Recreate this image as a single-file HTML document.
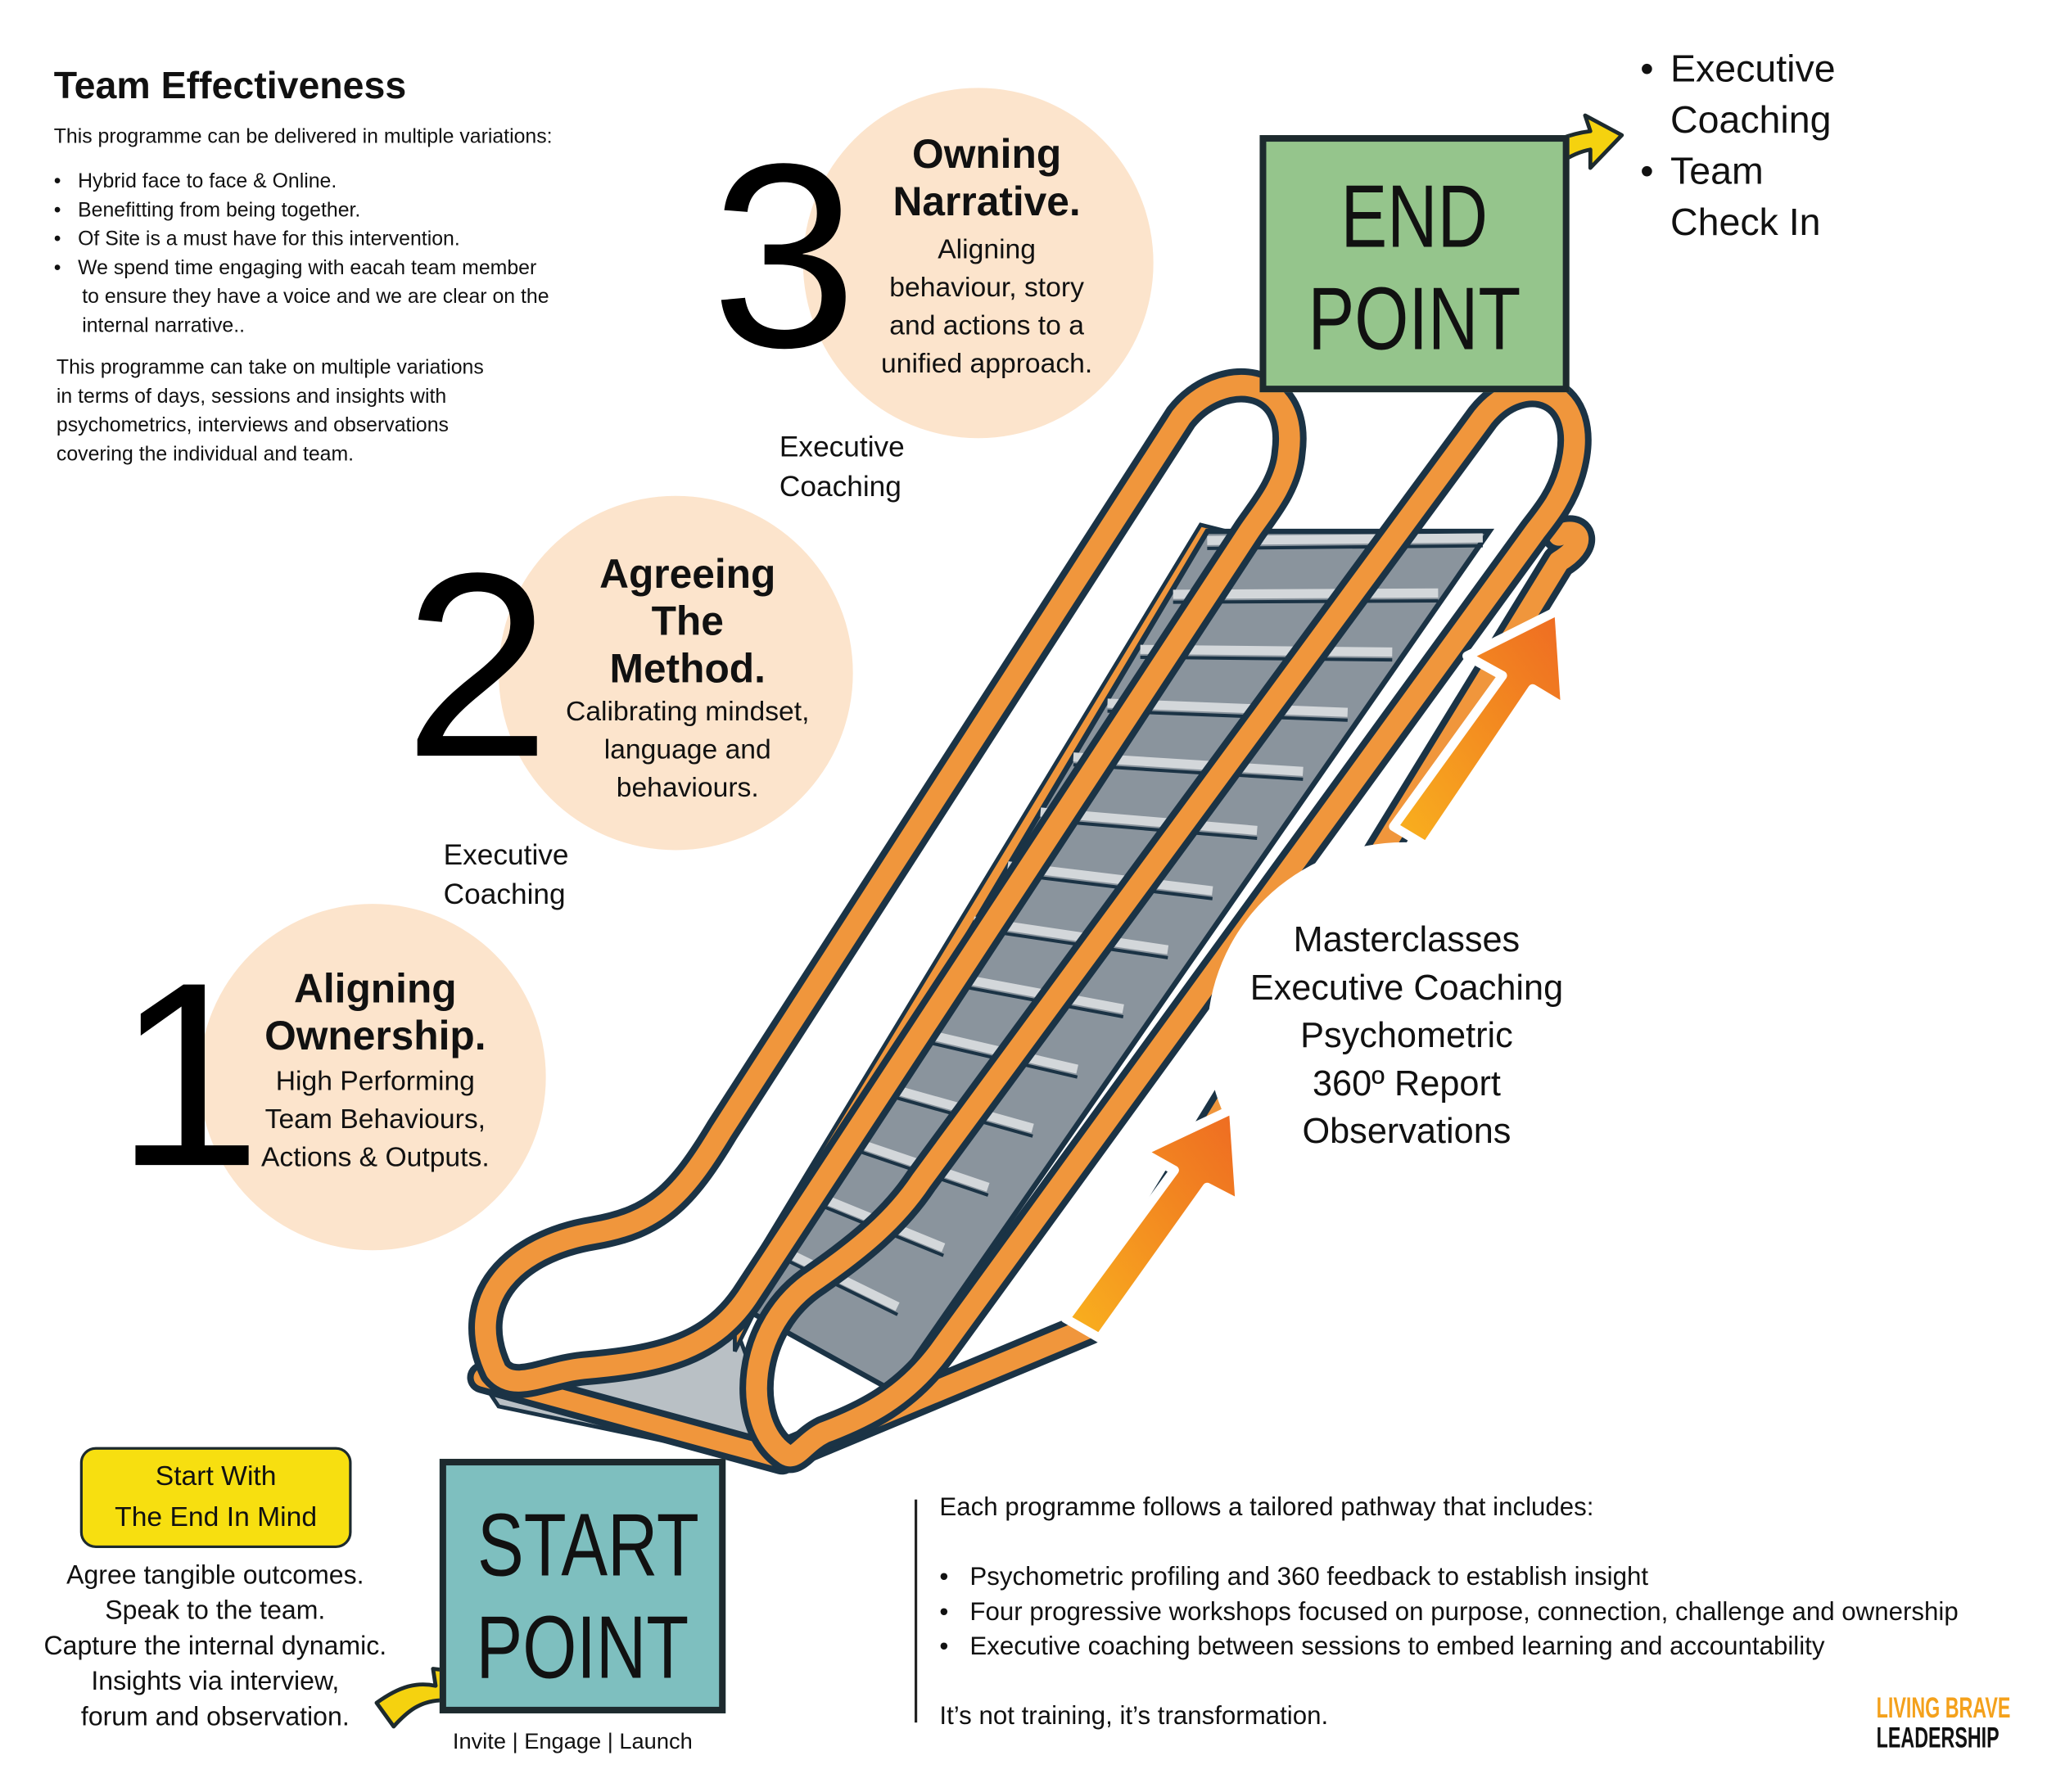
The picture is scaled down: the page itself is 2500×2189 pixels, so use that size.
<!DOCTYPE html>
<html><head><meta charset="utf-8">
<style>
html,body{margin:0;padding:0;background:#fff;}
body{width:2500px;height:2189px;overflow:hidden;}
#c{position:absolute;left:0;top:0;width:1560px;height:1366px;transform:scale(1.60256);transform-origin:0 0;font-family:"Liberation Sans",sans-serif;color:#111;}
.a{position:absolute;white-space:nowrap;}
.circ{position:absolute;border-radius:50%;background:#fce4cc;}
.num{position:absolute;font-size:200px;line-height:1;color:#000;font-family:"Liberation Sans",sans-serif;}
.ct{position:absolute;text-align:center;white-space:nowrap;}
.ct b{font-size:31px;line-height:36px;display:block;}
.ct span{font-size:21px;line-height:29px;display:block;}
.box{position:absolute;border:5px solid #1d2a2e;box-sizing:border-box;text-align:center;font-size:68px;line-height:78px;color:#111;}
.box span{display:inline-block;transform:scaleX(0.78);}
</style></head><body><div id="c">

<div class="a" style="left:41px;top:50px;font-size:29px;font-weight:bold;">Team Effectiveness</div>
<div class="a" style="left:41px;top:96px;font-size:15.5px;">This programme can be delivered in multiple variations:</div>
<div class="a" style="left:41px;top:128px;font-size:15.5px;line-height:22px;">
•&nbsp;&nbsp; Hybrid face to face &amp; Online.<br>
•&nbsp;&nbsp; Benefitting from being together.<br>
•&nbsp;&nbsp; Of Site is a must have for this intervention.<br>
•&nbsp;&nbsp; We spend time engaging with eacah team member<br>
&nbsp;&nbsp;&nbsp;&nbsp; to ensure they have a voice and we are clear on the<br>
&nbsp;&nbsp;&nbsp;&nbsp; internal narrative..</div>
<div class="a" style="left:43px;top:270px;font-size:15.5px;line-height:22px;">This programme can take on multiple variations<br>in terms of days, sessions and insights with<br>psychometrics, interviews and observations<br>covering the individual and team.</div>

<div class="circ" style="left:612px;top:67px;width:267px;height:267px;"></div>
<div class="circ" style="left:380px;top:378px;width:270px;height:270px;"></div>
<div class="circ" style="left:152px;top:689px;width:264px;height:264px;"></div>
<div class="num" style="left:542px;top:96px;">3</div>
<div class="num" style="left:308px;top:408px;">2</div>
<div class="num" style="left:88px;top:720px;">1</div>
<div class="ct" style="left:652px;top:100px;width:200px;"><b>Owning<br>Narrative.</b><span style="margin-top:4px">Aligning<br>behaviour, story<br>and actions to a<br>unified approach.</span></div>
<div class="ct" style="left:414px;top:420px;width:220px;"><b>Agreeing<br>The<br>Method.</b><span>Calibrating mindset,<br>language and<br>behaviours.</span></div>
<div class="ct" style="left:186px;top:736px;width:200px;"><b>Aligning<br>Ownership.</b><span style="margin-top:2px">High Performing<br>Team Behaviours,<br>Actions &amp; Outputs.</span></div>

<div class="a" style="left:594px;top:326px;font-size:22px;line-height:30px;">Executive<br>Coaching</div>
<div class="a" style="left:338px;top:637px;font-size:22px;line-height:30px;">Executive<br>Coaching</div>

<svg style="position:absolute;left:0;top:0" width="1560" height="1366" viewBox="0 0 1560 1366">
<defs>
<linearGradient id="g" x1="0" y1="1" x2="1" y2="0"><stop offset="0" stop-color="#f9b21e"/><stop offset="1" stop-color="#ee6a22"/></linearGradient>
</defs>
<polygon points="372,1060 560,1010 600,1118 380,1072" fill="#b9c0c5" stroke="#1b3345" stroke-width="3"/>
<polygon points="560,985 915,400 935,405 575,1000 560,1030" fill="#f0963c" stroke="#1b3345" stroke-width="3"/>
<polygon points="920,405 1135,405 680,1060 568,998" fill="#8a949d" stroke="#1b3345" stroke-width="4"/>
<g stroke-width="7" stroke="#d3d7da">
<line x1="920" y1="412" x2="1130" y2="410"/><line x1="894" y1="453" x2="1096" y2="452"/><line x1="869" y1="495" x2="1061" y2="497"/><line x1="844" y1="536" x2="1027" y2="543"/><line x1="818" y1="577" x2="993" y2="588"/><line x1="793" y1="619" x2="958" y2="633"/><line x1="768" y1="660" x2="924" y2="679"/><line x1="742" y1="702" x2="890" y2="724"/><line x1="717" y1="743" x2="856" y2="769"/><line x1="692" y1="785" x2="821" y2="815"/><line x1="666" y1="826" x2="787" y2="860"/><line x1="641" y1="867" x2="753" y2="905"/><line x1="616" y1="909" x2="719" y2="951"/><line x1="590" y1="950" x2="684" y2="996"/>
</g>
<g stroke-width="2.5" stroke="#1b3345">
<line x1="920" y1="418" x2="1130" y2="416"/><line x1="894" y1="459" x2="1096" y2="458"/><line x1="869" y1="501" x2="1061" y2="503"/><line x1="844" y1="542" x2="1027" y2="549"/><line x1="818" y1="583" x2="993" y2="594"/><line x1="793" y1="625" x2="958" y2="639"/><line x1="768" y1="666" x2="924" y2="685"/><line x1="742" y1="708" x2="890" y2="730"/><line x1="717" y1="749" x2="856" y2="775"/><line x1="692" y1="791" x2="821" y2="821"/><line x1="666" y1="832" x2="787" y2="866"/><line x1="641" y1="873" x2="753" y2="911"/><line x1="616" y1="915" x2="719" y2="957"/><line x1="590" y1="956" x2="684" y2="1002"/>
</g>
<g fill="none" stroke-linecap="round" stroke-linejoin="round">
<path d="M595,1110 L830,1012 L1188,428 C1210,415 1205,400 1188,408" stroke="#1b3345" stroke-width="26"/>
<path d="M595,1110 L830,1012 L1188,428 C1210,415 1205,400 1188,408" stroke="#f0963c" stroke-width="16"/>
<path d="M368,1050 L596,1112" stroke="#1b3345" stroke-width="24"/>
<path d="M368,1050 L596,1112" stroke="#f0963c" stroke-width="14"/>
<path d="M378,1045 C352,990 392,950 452,940 C500,932 520,912 550,862 L900,318 C930,280 990,285 982,345 C980,370 962,390 952,405 L572,985 C545,1028 505,1038 445,1043 C415,1046 392,1062 378,1045 Z" stroke="#1b3345" stroke-width="26"/>
<path d="M378,1045 C352,990 392,950 452,940 C500,932 520,912 550,862 L900,318 C930,280 990,285 982,345 C980,370 962,390 952,405 L572,985 C545,1028 505,1038 445,1043 C415,1046 392,1062 378,1045 Z" stroke="#f0963c" stroke-width="16"/>
<path d="M598,1108 C565,1085 568,1010 622,975 C655,952 682,930 702,900 L1130,318 C1160,280 1215,295 1196,360 C1190,380 1180,392 1170,405 L716,1030 C690,1065 660,1080 628,1092 C612,1100 606,1115 598,1108 Z" stroke="#1b3345" stroke-width="26"/>
<path d="M598,1108 C565,1085 568,1010 622,975 C655,952 682,930 702,900 L1130,318 C1160,280 1215,295 1196,360 C1190,380 1180,392 1170,405 L716,1030 C690,1065 660,1080 628,1092 C612,1100 606,1115 598,1108 Z" stroke="#f0963c" stroke-width="16"/>
</g>
<ellipse cx="1070" cy="790" rx="150" ry="148" fill="#fff"/>
<g stroke="#fff" stroke-width="7" stroke-linejoin="round" fill="url(#g)">
<polygon points="812,1005 895,892 870,878 940,845 945,918 920,905 838,1020"/>
<polygon points="1062,630 1145,515 1118,500 1188,465 1193,540 1168,525 1087,645"/>
</g>
<g stroke="#1d2a2e" stroke-width="3" stroke-linejoin="round" fill="#f5d20f">
<path d="M1155,125 C1175,110 1195,102 1212,100 L1208,88 L1236,103 L1212,128 L1212,114 C1196,117 1182,128 1168,142 Z"/>
<path d="M287,1298 C305,1285 318,1282 332,1285 L330,1272 L356,1275 L348,1302 L338,1296 C320,1296 310,1305 300,1316 Z"/>
</g>
</svg>

<div class="a" style="left:948px;top:698px;width:248px;text-align:center;font-size:27px;line-height:36.5px;">Masterclasses<br>Executive Coaching<br>Psychometric<br>360º Report<br>Observations</div>

<div class="box" style="left:960px;top:103px;width:236px;height:196px;background:#95c58c;padding-top:18px;"><span>END</span><br><span>POINT</span></div>
<div class="box" style="left:335px;top:1112px;width:218px;height:194px;background:#7ebfbf;padding-top:22px;"><span>START</span><br><span>POINT</span></div>

<div class="a" style="left:1250px;top:34px;font-size:29px;line-height:39px;">•<br><br>•</div>
<div class="a" style="left:1273px;top:34px;font-size:29px;line-height:39px;">Executive<br>Coaching<br>Team<br>Check In</div>

<div class="a" style="left:61px;top:1103px;width:207px;height:77px;box-sizing:border-box;border:2.5px solid #1d2a2e;border-radius:12px;background:#f7df10;text-align:center;font-size:21px;line-height:31px;padding-top:5px;">Start With<br>The End In Mind</div>
<div class="a" style="left:14px;top:1188px;width:300px;text-align:center;font-size:20px;line-height:27px;">Agree tangible outcomes.<br>Speak to the team.<br>Capture the internal dynamic.<br>Insights via interview,<br>forum and observation.</div>
<div class="a" style="left:345px;top:1318px;font-size:17px;">Invite | Engage | Launch</div>

<div class="a" style="left:697px;top:1143px;width:2px;height:170px;background:#222;"></div>
<div class="a" style="left:716px;top:1136px;font-size:19.5px;line-height:26.5px;">Each programme follows a tailored pathway that includes:<br><br>
•&nbsp;&nbsp; Psychometric profiling and 360 feedback to establish insight<br>
•&nbsp;&nbsp; Four progressive workshops focused on purpose, connection, challenge and ownership<br>
•&nbsp;&nbsp; Executive coaching between sessions to embed learning and accountability<br><br>
It’s not training, it’s transformation.</div>

<div class="a" style="left:1430px;top:1290px;font-weight:bold;font-size:22px;line-height:23px;transform:scaleX(0.66);transform-origin:0 0;"><span style="color:#f4a11c">LIVING BRAVE</span><br><span style="color:#111">LEADERSHIP</span></div>

</div></body></html>
